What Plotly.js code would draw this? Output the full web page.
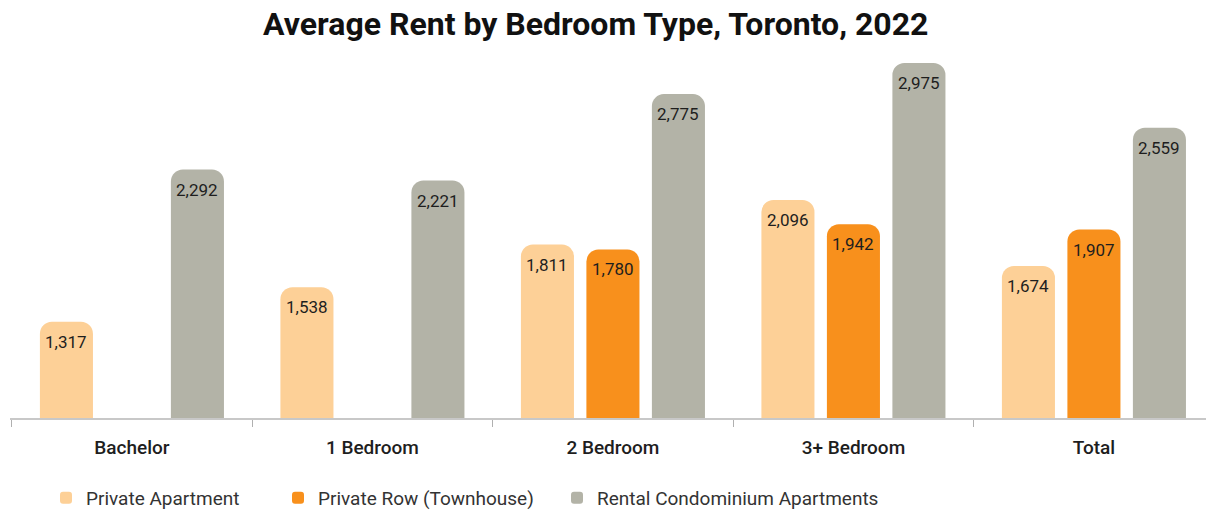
<!DOCTYPE html>
<html>
<head>
<meta charset="utf-8">
<script src="https://cdn.plot.ly/plotly-3.0.1.min.js"></script>
<style>html,body{margin:0;padding:0;background:#fff;}#chart{width:1206px;height:512px;}</style>
</head>
<body>
<div id="chart"></div>
<script>
const categories = ["Bachelor", "1 Bedroom", "2 Bedroom", "3+ Bedroom", "Total"];
const privateApartment = [1317, 1538, 1811, 2096, 1674];
const privateRow = [null, null, 1780, 1942, 1907];
const rentalCondo = [2292, 2221, 2775, 2975, 2559];
const seriesNames = ["Private Apartment", "Private Row (Townhouse)", "Rental Condominium Apartments"];
const seriesColors = ["#FDD097", "#F8901C", "#B3B3A7"];

const FONT = "Roboto, 'Open Sans', sans-serif";
const W = 1206, H = 512;
const margin = {l: 10, r: 0, t: 59, b: 94};
const xRange = [-0.507, 4.466];
const bargap = 0.183;

const values = [privateApartment, privateRow, rentalCondo];
const legendIds = ["legend", "legend2", "legend3"];
const traces = values.map((v, i) => ({
  type: "bar",
  name: seriesNames[i],
  x: categories,
  y: v,
  legend: legendIds[i],
  marker: {color: seriesColors[i], cornerradius: 12},
  hoverinfo: "skip"
}));

// value labels placed inside the top of each bar
const pxPerCat = (W - margin.l - margin.r) / (xRange[1] - xRange[0]);
const pitch = pxPerCat * (1 - bargap) / values.length;
const annotations = [];
values.forEach((v, i) => {
  v.forEach((val, j) => {
    if (val === null) return;
    annotations.push({
      x: categories[j], y: val, xref: "x", yref: "y",
      xshift: (i - (values.length - 1) / 2) * pitch, yshift: -20,
      text: val.toLocaleString("en-US"), showarrow: false,
      xanchor: "center", yanchor: "middle",
      font: {family: FONT, size: 17, color: "#1e1e1e"}
    });
  });
});

const legendBase = {orientation: "h", xref: "container", yref: "container", y: (H - 498) / H, yanchor: "middle",
                    xanchor: "left", font: {family: FONT, size: 19, color: "#333333"}, bgcolor: "rgba(0,0,0,0)"};
const legendX = [46, 278, 557];

const layout = {
  width: W, height: H,
  margin: margin,
  paper_bgcolor: "#ffffff",
  plot_bgcolor: "#ffffff",
  title: {text: "<b>Average Rent by Bedroom Type, Toronto, 2022</b>", x: 0.494, xanchor: "center", y: 0.953, yanchor: "middle",
          font: {family: FONT, size: 32, color: "#111111"}},
  barmode: "group",
  bargap: bargap,
  bargroupgap: 0.19,
  showlegend: true,
  legend: Object.assign({}, legendBase, {x: legendX[0] / W}),
  legend2: Object.assign({}, legendBase, {x: legendX[1] / W}),
  legend3: Object.assign({}, legendBase, {x: legendX[2] / W}),
  annotations: annotations,
  xaxis: {
    type: "category",
    range: xRange,
    showline: true, linecolor: "#c8c8c8", linewidth: 1.5,
    ticks: "outside", tickson: "boundaries", ticklen: 7, tickcolor: "#b0b0b0", tickwidth: 1,
    ticklabelstandoff: 12,
    tickfont: {family: FONT, size: 19, color: "#1e1e1e", weight: 500},
    showgrid: false, zeroline: false, fixedrange: true
  },
  yaxis: {
    range: [700, 3000],
    visible: false, showgrid: false, zeroline: false, fixedrange: true
  },
  hovermode: false
};

Plotly.newPlot("chart", traces, layout, {displayModeBar: false, staticPlot: true});
</script>
</body>
</html>
